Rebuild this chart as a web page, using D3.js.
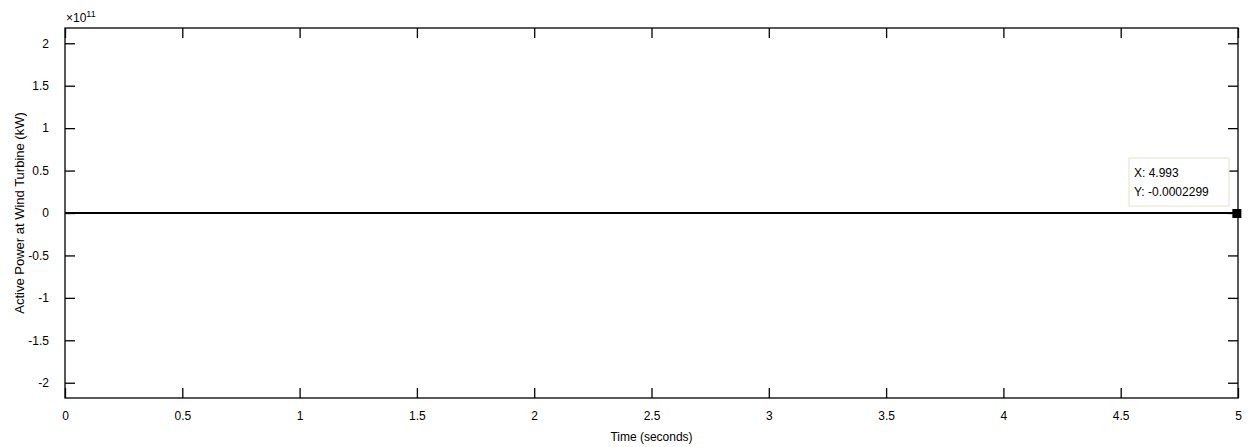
<!DOCTYPE html>
<html><head><meta charset="utf-8">
<script src="https://cdn.jsdelivr.net/npm/d3@7"></script>
<style>
html,body{margin:0;padding:0;background:#fff;}
svg{display:block;font-family:"Liberation Sans",Arial,sans-serif;}
</style></head><body>
<svg id="c" width="1248" height="447"></svg>
<script>
const timeSec = [0, 1, 2, 3, 4, 4.993, 5];
const powerKW = [0, 0, 0, 0, 0, -0.0002299, 0];
const xTicks = [0, 0.5, 1, 1.5, 2, 2.5, 3, 3.5, 4, 4.5, 5];
const yTicks = [-2, -1.5, -1, -0.5, 0, 0.5, 1, 1.5, 2];
const tipX = 4.993, tipY = -0.0002299;
const scaleExp = 11;

const svg = d3.select("#c");
const L = 65, R = 1238, T = 28, B = 398;
const x = d3.scaleLinear().domain([0, 5]).range([L, R]);
const y = d3.scaleLinear().domain([-2.18, 2.18]).range([B, T]);
const tl = 10;

// frame
svg.append("rect").attr("x", L).attr("y", T).attr("width", R - L).attr("height", B - T)
  .attr("fill", "none").attr("stroke", "#000").attr("stroke-width", 1.3);

const axB = svg.append("g").attr("transform", `translate(0,${B})`)
  .call(d3.axisBottom(x).tickValues(xTicks).tickSize(-tl).tickPadding(tl + 3).tickFormat(d => String(d)));
const axT = svg.append("g").attr("transform", `translate(0,${T})`)
  .call(d3.axisTop(x).tickValues(xTicks).tickSize(-tl).tickFormat(""));
const axL = svg.append("g").attr("transform", `translate(${L},0)`)
  .call(d3.axisLeft(y).tickValues(yTicks).tickSize(-tl).tickPadding(tl + 6).tickFormat(d => String(d)));
const axR = svg.append("g").attr("transform", `translate(${R},0)`)
  .call(d3.axisRight(y).tickValues(yTicks).tickSize(-tl).tickFormat(""));
[axB, axT, axL, axR].forEach(g => {
  g.select(".domain").remove();
  g.selectAll(".tick line").attr("stroke", "#000").attr("stroke-width", 1.3);
  g.selectAll("text").attr("fill", "#000").style("font-size", "12px").style("font-family", '"Liberation Sans",Arial,sans-serif');
});

// exponent
const ex = svg.append("text").attr("x", 66).attr("y", 22).attr("fill", "#000").style("font-size", "12px");
ex.append("tspan").text("\u00d710");
ex.append("tspan").attr("dy", -5).style("font-size", "9px").text(scaleExp);

// line
const line = d3.line().x((d, i) => x(timeSec[i])).y((d, i) => y(powerKW[i] / Math.pow(10, scaleExp)));
svg.append("path").datum(powerKW).attr("d", line).attr("fill", "none").attr("stroke", "#000").attr("stroke-width", 2);

// datatip
svg.append("rect").attr("x", x(tipX) - 4).attr("y", y(tipY / 1e11) - 4).attr("width", 9).attr("height", 9).attr("fill", "#000");
svg.append("rect").attr("x", 1129).attr("y", 158).attr("width", 100).attr("height", 48)
  .attr("fill", "#fff").attr("stroke", "#e6e2c8").attr("stroke-width", 1);
svg.append("text").attr("x", 1134).attr("y", 177).attr("fill", "#000").style("font-size", "12px").text("X: " + tipX);
svg.append("text").attr("x", 1134).attr("y", 196).attr("fill", "#000").style("font-size", "12px").text("Y: " + tipY);

// axis labels
svg.append("text").attr("x", (L + R) / 2).attr("y", 441).attr("text-anchor", "middle").attr("fill", "#000")
  .style("font-size", "12px").text("Time (seconds)");
svg.append("text").attr("transform", `translate(24,${(T + B) / 2}) rotate(-90)`).attr("text-anchor", "middle").attr("fill", "#000")
  .style("font-size", "13px").text("Active Power at Wind Turbine  (kW)");
</script></body></html>
